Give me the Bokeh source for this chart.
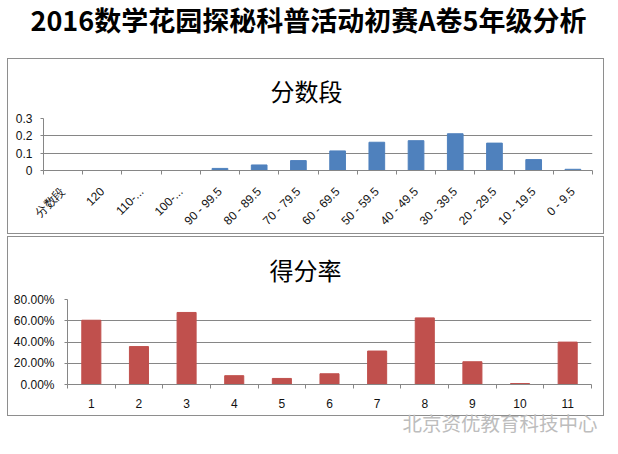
from math import pi
from bokeh.plotting import figure
from bokeh.layouts import column
from bokeh.models import Range1d, FixedTicker, NumeralTickFormatter
from bokeh.embed import file_html
from bokeh.resources import INLINE

main_title = "2016数学花园探秘科普活动初赛A卷5年级分析"

# Chart 1: 分数段 distribution
seg_title = "分数段"
seg_categories = ["分数段", "120", "110-...", "100-...", "90 - 99.5", "80 - 89.5", "70 - 79.5",
                  "60 - 69.5", "50 - 59.5", "40 - 49.5", "30 - 39.5", "20 - 29.5", "10 - 19.5", "0 - 9.5"]
seg_values = [0, 0, 0, 0, 0.012, 0.032, 0.057, 0.113, 0.163, 0.172, 0.212, 0.158, 0.063, 0.007]
seg_yticks = [0, 0.1, 0.2, 0.3]

# Chart 2: 得分率 per question
rate_title = "得分率"
rate_categories = ["1", "2", "3", "4", "5", "6", "7", "8", "9", "10", "11"]
rate_values = [0.605, 0.357, 0.678, 0.083, 0.057, 0.101, 0.315, 0.627, 0.214, 0.009, 0.399]
rate_yticks = [0, 0.2, 0.4, 0.6, 0.8]

watermark = "北京资优教育科技中心"

BLUE = "#4F81BD"
RED = "#C0504D"
GRID = "#868686"
BOX = "#8e8e8e"
CJK = "Noto Sans CJK SC"
LAT = "Liberation Sans"

W = 597


def blank(fig):
    fig.grid.visible = False
    fig.outline_line_color = None


def style_chart(p, cats, vals, color, yticks, yfmt, title_offset, title_standoff):
    n = len(cats)
    centers = [i + 0.5 for i in range(n)]
    bounds = list(range(n + 1))
    p.vbar(x=centers, top=vals, width=0.4, fill_color=color, line_color=color)
    p.x_range = Range1d(0, n)
    p.xaxis.ticker = FixedTicker(ticks=centers, minor_ticks=bounds)
    p.xaxis.major_label_overrides = {c: lab for c, lab in zip(centers, cats)}
    p.xaxis.major_tick_line_color = None
    p.xaxis.minor_tick_line_color = GRID
    p.xaxis.minor_tick_out = 4
    p.xaxis.minor_tick_in = 0
    p.xaxis.axis_line_color = GRID
    p.xaxis.major_label_text_font = LAT
    p.xaxis.major_label_text_font_size = "12px"
    p.xaxis.major_label_text_color = "#111111"
    p.yaxis.ticker = FixedTicker(ticks=yticks)
    p.yaxis.formatter = NumeralTickFormatter(format=yfmt)
    p.yaxis.axis_line_color = GRID
    p.yaxis.major_tick_line_color = GRID
    p.yaxis.major_tick_out = 3
    p.yaxis.major_tick_in = 0
    p.yaxis.minor_tick_line_color = None
    p.yaxis.major_label_text_font = LAT
    p.yaxis.major_label_text_font_size = "12px"
    p.yaxis.major_label_text_color = "#111111"
    p.xgrid.visible = False
    p.ygrid.grid_line_color = GRID
    p.outline_line_color = None
    p.title.align = "left"
    p.title.offset = title_offset
    p.title.standoff = title_standoff
    p.title.text_font = CJK
    p.title.text_font_size = "24px"
    p.title.text_font_style = "normal"
    p.title.text_color = "#000000"
    p.styles = {"border": "1px solid " + BOX}


# Main title
t = figure(width=W + 2, height=59, toolbar_location=None, output_backend="svg",
           x_axis_location=None, y_axis_location=None, min_border=0,
           title=main_title, frame_align=False, margin=(-3, 0, 0, 0))
t.title.align = "left"
t.title.offset = 23
t.title.text_font = CJK
t.title.text_font_size = "27px"
t.title.text_font_style = "bold"
t.title.text_color = "#000000"
t.title.standoff = 0
blank(t)

# Chart 1
p1 = figure(width=W, height=176, toolbar_location=None, output_backend="svg",
            title=seg_title, y_range=Range1d(0, 0.3), frame_align=False,
            min_border_left=35, min_border_right=13, min_border_top=54, min_border_bottom=62)
style_chart(p1, seg_categories, seg_values, BLUE, seg_yticks, "0.[0]", 227, 22)
p1.xaxis.major_label_orientation = pi / 4
p1.xaxis.major_label_text_font_size = "12px"
p1.xaxis.major_label_standoff = 13
p1.yaxis.major_label_standoff = 8

# Chart 2
p2 = figure(width=W, height=180, toolbar_location=None, output_backend="svg",
            title=rate_title, y_range=Range1d(0, 0.8), frame_align=False,
            min_border_left=59, min_border_right=14, min_border_top=57, min_border_bottom=33)
style_chart(p2, rate_categories, rate_values, RED, rate_yticks, "0.00%", 202, 25)
p2.xaxis.major_label_standoff = 8
p2.yaxis.major_label_standoff = 10

# Watermark
wm = figure(width=W + 2, height=30, toolbar_location=None, output_backend="svg",
            x_axis_location=None, y_axis_location=None, min_border=0,
            title=watermark, margin=(-12, 0, 0, 0), frame_align=False,
            background_fill_color=None, border_fill_color=None)
wm.title.align = "left"
wm.title.offset = 395
wm.title.text_font = CJK
wm.title.text_font_size = "19.5px"
wm.title.text_font_style = "normal"
wm.title.text_color = "#bdbdbd"
wm.title.standoff = 0
blank(wm)

layout = column(t, p1, p2, wm, spacing=2, margin=(0, 0, 0, 7))
open("out.html", "w").write(file_html(layout, INLINE))
